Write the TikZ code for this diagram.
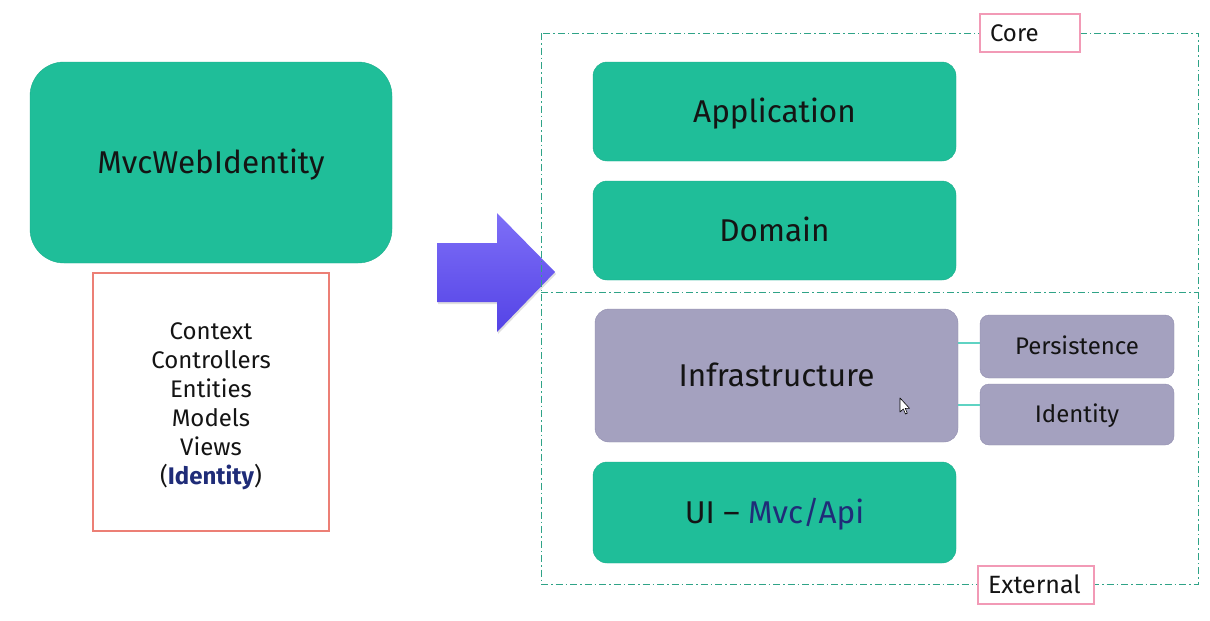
\documentclass[tikz,border=0pt]{standalone}
\usepackage{fontspec}
\setmainfont{Fira Sans}
\usetikzlibrary{shadows}
\definecolor{boxgreen}{HTML}{1FBE99}
\definecolor{boxgreenedge}{HTML}{1AAE8B}
\definecolor{lav}{HTML}{A4A1BF}
\definecolor{lavedge}{HTML}{908DAE}
\definecolor{listborder}{HTML}{EC7F75}
\definecolor{pinkb}{HTML}{F29AB6}
\definecolor{dashg}{HTML}{2FA387}
\definecolor{navy}{HTML}{1F2C78}
\definecolor{linkc}{HTML}{5FD3C3}
\definecolor{arrtop}{HTML}{7E6FF7}
\definecolor{arrbot}{HTML}{5443E6}
\definecolor{txt}{HTML}{141414}
\tikzset{
  bigtext/.style={font=\fontsize{31.5}{36}\selectfont, text height=21.7pt, text depth=0pt},
  smalltext/.style={font=\fontsize{24}{28}\selectfont, text height=16.5pt, text depth=0pt},
  greenbox/.style={draw=boxgreenedge, fill=boxgreen, rounded corners=14pt, text=txt, bigtext},
  lavbox/.style={draw=lavedge, fill=lav, rounded corners=14pt, text=txt, bigtext},
  smallbox/.style={draw=lavedge, fill=lav, rounded corners=9pt, text=txt, smalltext},
  tagbox/.style={draw=pinkb, fill=white, line width=1.2pt, text=txt, inner sep=0pt, smalltext},
  region/.style={draw=dashg, line width=0.9pt, dash pattern=on 7pt off 3pt on 1.5pt off 3pt},
  link/.style={draw=linkc, line width=1.4pt},
}
\begin{document}
\begin{tikzpicture}[x=1pt,y=-1pt]
\useasboundingbox[fill=white] (0,0) rectangle (1210,621);
% left side
\node[greenbox, rounded corners=34pt, minimum width=362pt, minimum height=201pt] (mvc) at (211,162.5) {MvcWebIdentity};
\node[draw=listborder, line width=1.4pt, fill=white, minimum width=236pt, minimum height=258pt] (list) at (211,402) {};
\node[align=center, text=txt, font=\fontsize{24}{29}\selectfont] (listtext) at (211,406) {Context\\Controllers\\Entities\\Models\\Views\\(\textbf{\color{navy}Identity})};
% arrow
\shade[top color=arrtop, bottom color=arrbot, drop shadow={opacity=0.25, shadow xshift=1pt, shadow yshift=-2pt}]
  (437,243) -- (497,243) -- (497,213) -- (555,272) -- (497,332) -- (497,302) -- (437,302) -- cycle;
% regions
\coordinate (rtl) at (541,33);
\coordinate (rbr) at (1198,584);
\coordinate (ml) at (541,292);
\coordinate (mr) at (1198,292);
\draw[region] (rtl) rectangle (rbr);
\draw[region] (ml) -- (mr);
\node[tagbox, minimum width=100pt, minimum height=38pt, text width=80pt, align=left] (core) at (1030,33) {Core};
\node[tagbox, minimum width=116pt, minimum height=38pt, text width=96pt, align=left, font=\fontsize{25}{29}\selectfont, text height=17.2pt] (ext) at (1036,585) {External};
% right boxes
\node[greenbox, minimum width=363pt, minimum height=99pt] (app) at (774.5,111.5) {Application};
\node[greenbox, minimum width=363pt, minimum height=99pt] (dom) at (774.5,230.5) {Domain};
\node[lavbox, minimum width=363pt, minimum height=133pt] (infra) at (776.5,375.5) {Infrastructure};
\node[smallbox, minimum width=194pt, minimum height=63pt] (pers) at (1077,346.5) {Persistence};
\node[smallbox, minimum width=194pt, minimum height=61pt] (iden) at (1077,414.5) {Identity};
\node[greenbox, minimum width=363pt, minimum height=101pt] (ui) at (774.5,512.5) {UI – {\color{navy}Mvc/Api}};
\draw[link] (infra.east |- 0,343) -- (pers.west |- 0,343);
\draw[link] (infra.east |- 0,405) -- (iden.west |- 0,405);
% mouse cursor
\draw[fill=white, line width=0.6pt, line join=round] (900,398) -- (900,412) -- (903.3,409) -- (905.5,414) -- (907.3,413.2) -- (905.2,408.3) -- (909.5,408.3) -- cycle;
\end{tikzpicture}
\end{document}
